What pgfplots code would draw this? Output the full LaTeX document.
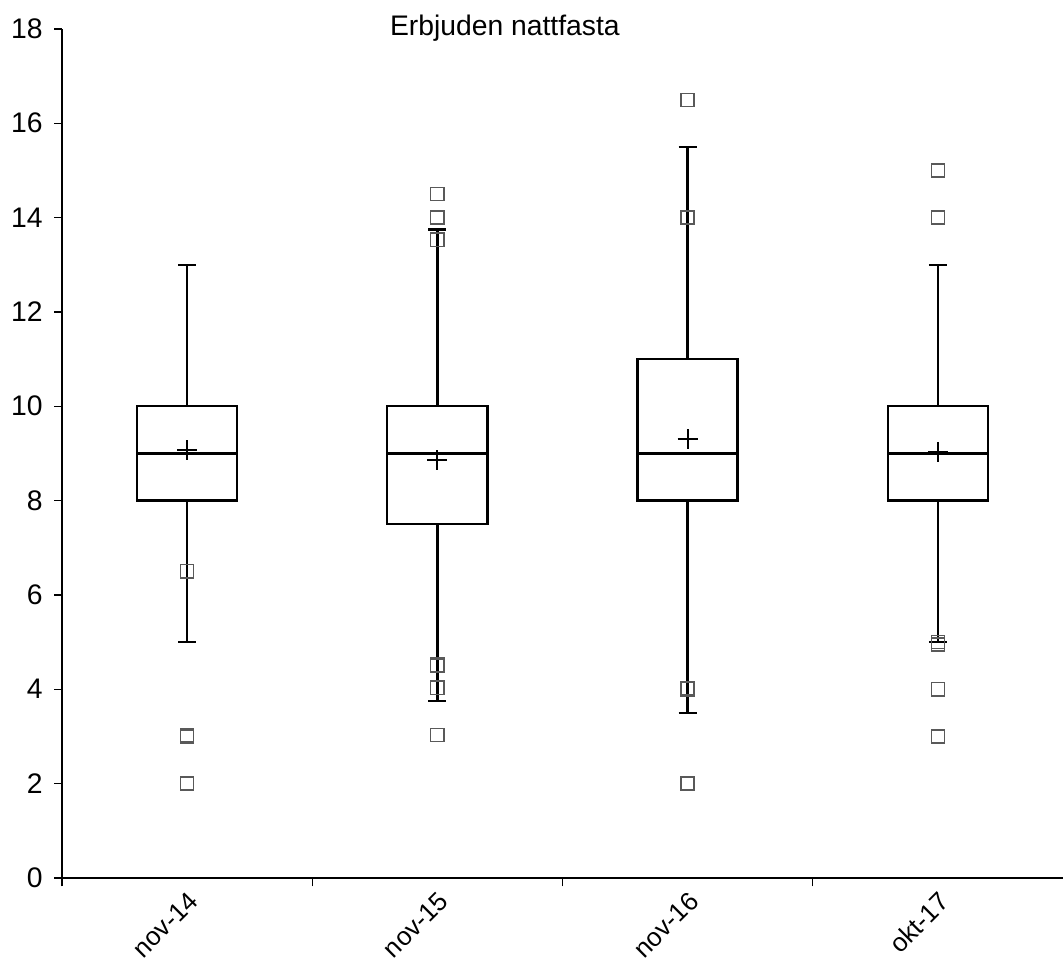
\documentclass[border=0pt]{standalone}
\usepackage{fontspec}
\setmainfont{Liberation Sans}
\usepackage{pgfplots}
\pgfplotsset{compat=1.18}
\usepgfplotslibrary{statistics}

\begin{document}
\begin{tikzpicture}
\begin{axis}[
  name=ax,
  scale only axis,
  width=470.5pt, height=399pt,
  xmin=-0.5, xmax=3.5, ymin=0, ymax=18,
  axis x line*=bottom, axis y line*=left,
  ytick={0,2,...,18},
  xtick={0,1,2,3},
  xticklabels={nov-14,nov-15,nov-16,okt-17},
  minor xtick={-0.5,0.5,1.5,2.5},
  tick align=outside,
  major tick length=3.5pt,
  x tick style={draw=none},
  minor x tick style={draw=black, line width=0.6pt},
  minor tick length=4pt,
  y tick style={black, line width=0.6pt},
  axis line style={line width=0.6pt},
  xticklabel style={rotate=45, anchor=north east, inner sep=1.5pt, font=\fontsize{12.2}{14}\selectfont},
  yticklabel style={xshift=-2pt, font=\fontsize{13.3}{15}\selectfont},
  /pgf/number format/assume math mode=true,
  clip=false,
  boxplot/draw direction=y,
  boxplot/box extend=0.4,
  boxplot/whisker extend=0.072,
]
% boxes
\addplot[black, line width=1.15pt, boxplot prepared={draw position=0,
  lower whisker=5, lower quartile=8, median=9, upper quartile=10, upper whisker=13}] coordinates {};
\addplot[black, line width=1.15pt, boxplot prepared={draw position=1,
  lower whisker=3.75, lower quartile=7.5, median=9, upper quartile=10, upper whisker=13.75}] coordinates {};
\addplot[black, line width=1.15pt, boxplot prepared={draw position=2,
  lower whisker=3.5, lower quartile=8, median=9, upper quartile=11, upper whisker=15.5}] coordinates {};
\addplot[black, line width=1.15pt, boxplot prepared={draw position=3,
  lower whisker=5, lower quartile=8, median=9, upper quartile=10, upper whisker=13}] coordinates {};

% means
\addplot[only marks, mark=+, mark size=4.7pt, black, line width=1pt]
  coordinates {(0,9.07) (1,8.86) (2,9.3) (3,9.03)};

% outliers
\addplot[only marks, mark=square, mark size=3.1pt, draw=black!65, line width=0.7pt]
  coordinates {
    (0,6.5) (0,3) (0,3.03) (0,2)
    (1,14.5) (1,14) (1,13.53) (1,4.5) (1,4.52) (1,4.03) (1,3.03)
    (2,16.49) (2,14) (2,4) (2,4.02) (2,2)
    (3,15) (3,14) (3,5) (3,4.95) (3,4) (3,3)
  };

\node[font=\fontsize{13.3}{15}\selectfont] at (axis cs:1.27,18.02) {Erbjuden nattfasta};
\end{axis}
\pgfresetboundingbox
\useasboundingbox ([xshift=-29.1pt, yshift=-41.4pt]ax.south west) rectangle ([yshift=13.6pt]ax.north east);
\end{tikzpicture}
\end{document}
